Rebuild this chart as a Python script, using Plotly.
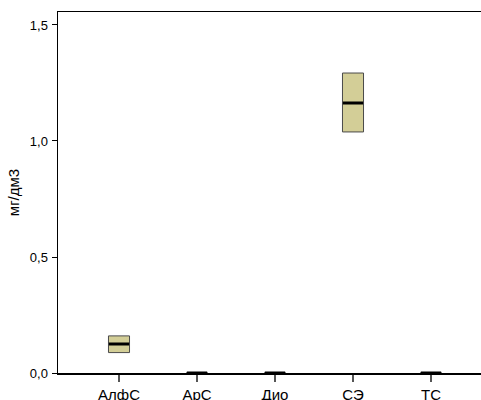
import plotly.graph_objects as go

categories = ["АлфС", "АрС", "Дио", "СЭ", "ТС"]
q1 = [0.088, 0.0, 0.0, 1.039, 0.0]
median = [0.125, 0.0, 0.0, 1.164, 0.0]
q3 = [0.160, 0.0, 0.0, 1.293, 0.0]
lower = [0.088, 0.0, 0.0, 1.039, 0.0]
upper = [0.160, 0.0, 0.0, 1.293, 0.0]
y_ticks = [0.0, 0.5, 1.0, 1.5]

fig = go.Figure()
fig.add_trace(go.Box(
    x=categories, q1=q1, median=median, q3=median if False else q3,
    lowerfence=lower, upperfence=upper,
    fillcolor="#D3CE97", line=dict(color="#4a4a4a", width=1),
    width=0.27, whiskerwidth=0, showlegend=False, hoverinfo="skip",
))
# thick black median line overlay
fig.add_trace(go.Box(
    x=categories, q1=median, median=median, q3=median,
    lowerfence=median, upperfence=median,
    fillcolor="rgba(0,0,0,0)", line=dict(color="black", width=3),
    width=0.26, whiskerwidth=0, showlegend=False, hoverinfo="skip",
))

fig.update_layout(
    width=481, height=400,
    margin=dict(l=58, r=0, t=12, b=27),
    paper_bgcolor="white", plot_bgcolor="white",
    separators=",.",
    font=dict(family="Liberation Sans, Arial, sans-serif", size=13, color="black"),
    boxmode="overlay",
    xaxis=dict(
        type="category", range=[-0.782, 4.641], automargin=False,
        showline=True, linecolor="black", linewidth=1.5, mirror=True,
        ticks="outside", ticklen=7, tickcolor="#555", tickwidth=1.5,
        showgrid=False, zeroline=False, fixedrange=True,
        tickfont=dict(size=15), ticklabelstandoff=0,
    ),
    yaxis=dict(
        range=[0, 1.556], tickvals=y_ticks, tickformat=".1f", automargin=False,
        showline=True, linecolor="black", linewidth=1.5, mirror=False,
        ticks="outside", ticklen=5, tickcolor="black", tickwidth=1,
        showgrid=False, zeroline=False, fixedrange=True,
        title=dict(text="мг/дм3", standoff=6, font=dict(size=15)),
        tickfont=dict(size=13), ticklabelstandoff=1,
    ),
)

fig.write_html(
    "out.html",
    config={"displayModeBar": False, "staticPlot": True},
    post_script="document.body.style.margin='0';document.body.style.overflow='hidden';",
)
